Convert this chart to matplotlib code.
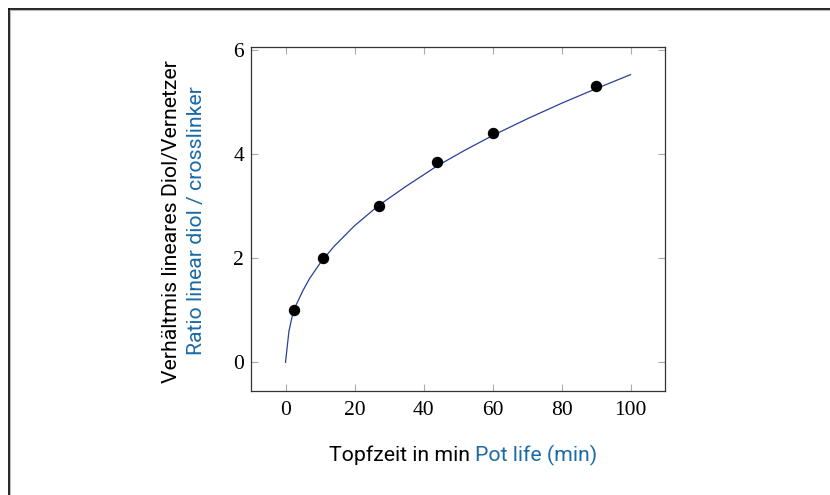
import matplotlib.pyplot as plt
from matplotlib.lines import Line2D

# measured points (pot life in min, ratio diol/crosslinker)
pot_life = [2.5, 11, 27, 44, 60, 90]
ratio = [1.0, 2.0, 3.0, 3.85, 4.4, 5.3]

# fitted curve
curve_x = [0, 1, 2, 3, 5, 7, 10, 14, 20, 27, 35, 44, 52, 60, 70, 80, 90, 100]
curve_y = [0, 0.6, 0.90, 1.09, 1.37, 1.61, 1.90, 2.22, 2.62, 3.01,
           3.38, 3.77, 4.07, 4.35, 4.67, 4.97, 5.25, 5.52]

xticks = [0, 20, 40, 60, 80, 100]
yticks = [0, 2, 4, 6]

BLUE = '#1a6aa8'
LINE = '#2a3f99'
SANS = ['Roboto', 'DejaVu Sans']
SERIF = ['Liberation Serif', 'DejaVu Serif']
LBL = 15.3

fig = plt.figure(figsize=(8.3, 4.95), dpi=100)
ax = fig.add_axes([251 / 830, 1 - 391 / 495, 414 / 830, 344 / 495])

ax.plot(curve_x, curve_y, color=LINE, lw=0.9, zorder=2)
ax.plot(pot_life, ratio, 'o', color='black', ms=7.2, zorder=3)

ax.set_xlim(-10, 110)
ax.set_ylim(-0.55, 6.05)
ax.set_xticks(xticks)
ax.set_yticks(yticks)
ax.tick_params(direction='in', length=5, width=0.8, color='#aaaaaa',
               top=True, right=True, labelsize=15.5)
ax.tick_params(axis='x', pad=7)
ax.tick_params(axis='y', pad=5)
for lab in ax.get_xticklabels() + ax.get_yticklabels():
    lab.set_family(SERIF)
for s in ax.spines.values():
    s.set_color('#333333')
    s.set_linewidth(0.9)

# y label, two lines in two colours
fig.text(171 / 830, 1 - 222 / 495, 'Verhältmis lineares Diol/Vernetzer', rotation=90,
         ha='center', va='center', fontsize=LBL, family=SANS, color='black')
fig.text(196 / 830, 1 - 221 / 495, 'Ratio linear diol / crosslinker', rotation=90,
         ha='center', va='center', fontsize=LBL, family=SANS, color=BLUE)

# x label, black + blue on one line
t1 = fig.text(0, 1 - 455 / 495, 'Topfzeit in min ', ha='left', va='center',
              fontsize=LBL, family=SANS, color='black')
t2 = fig.text(0, 1 - 455 / 495, 'Pot life (min)', ha='left', va='center',
              fontsize=LBL, family=SANS, color=BLUE)
r = fig.canvas.get_renderer()
w1 = t1.get_window_extent(r).width
w2 = t2.get_window_extent(r).width
x0 = 463 - (w1 + w2) / 2
t1.set_x(x0 / 830)
t2.set_x((x0 + w1) / 830)

# frame lines on top and left
fig.add_artist(Line2D([8.5 / 830, 1], [1 - 8.5 / 495] * 2, color='#111111', lw=1.3))
fig.add_artist(Line2D([8.5 / 830] * 2, [0, 1 - 8.5 / 495], color='#111111', lw=1.3))
fig.add_artist(Line2D([9.5 / 830, 1], [1 - 10 / 495] * 2, color='#bbbbbb', lw=0.8))
fig.add_artist(Line2D([10 / 830] * 2, [0, 1 - 9.5 / 495], color='#bbbbbb', lw=0.8))

fig.savefig('out.png', dpi=100)
